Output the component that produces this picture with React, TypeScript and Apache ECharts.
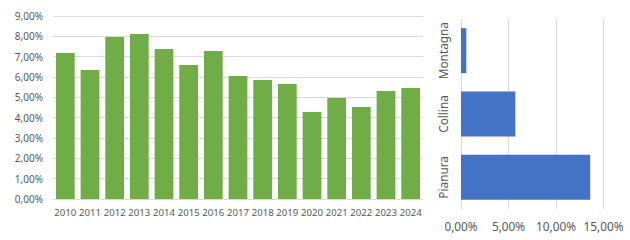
import React, { useEffect, useRef } from "react";
import * as echarts from "echarts";

const years = ["2010", "2011", "2012", "2013", "2014", "2015", "2016", "2017", "2018", "2019", "2020", "2021", "2022", "2023", "2024"];
const yearValues = [0.0718, 0.0635, 0.0797, 0.0812, 0.0738, 0.0659, 0.0728, 0.0605, 0.0585, 0.0566, 0.0428, 0.0497, 0.0453, 0.0531, 0.0546];
const zones = ["Pianura", "Collina", "Montagna"];
const zoneValues = [0.136, 0.0572, 0.0056];

const fmt = (v: number) => (v * 100).toFixed(2).replace(".", ",") + "%";
const textColor = "#595959";
const gridColor = "#d9d9d9";
const font = "Noto Sans";

export default function App() {
  const ref = useRef<HTMLDivElement>(null);
  useEffect(() => {
    if (!ref.current) return;
    const chart = echarts.init(ref.current, undefined, { renderer: "svg" });
    chart.setOption({
      animation: false,
      backgroundColor: "#ffffff",
      grid: [
        { left: 53, top: 16, width: 370, height: 183, containLabel: false },
        { left: 461, top: 19, width: 142.5, height: 190, containLabel: false },
      ],
      xAxis: [
        {
          gridIndex: 0,
          type: "category",
          data: years,
          axisLine: { show: true, lineStyle: { color: gridColor } },
          axisTick: { show: false },
          axisLabel: { interval: 0, color: textColor, fontSize: 9.6, fontFamily: font, margin: 8 },
        },
        {
          gridIndex: 1,
          type: "value",
          min: 0,
          max: 0.15,
          interval: 0.05,
          axisLine: { show: false },
          axisTick: { show: false },
          splitLine: { show: true, lineStyle: { color: gridColor } },
          axisLabel: { color: textColor, fontSize: 11.8, fontFamily: font, margin: 11, formatter: fmt },
        },
      ],
      yAxis: [
        {
          gridIndex: 0,
          type: "value",
          min: 0,
          max: 0.09,
          interval: 0.01,
          axisLine: { show: false },
          axisTick: { show: false },
          splitLine: { show: true, lineStyle: { color: gridColor } },
          axisLabel: { color: textColor, fontSize: 10, fontFamily: font, margin: 10, formatter: fmt },
        },
        {
          gridIndex: 1,
          type: "category",
          data: zones,
          axisLine: { show: false },
          axisTick: { show: false },
          axisLabel: { interval: 0, rotate: 90, color: textColor, fontSize: 11.8, fontFamily: font, margin: 12 },
        },
      ],
      series: [
        {
          type: "bar",
          xAxisIndex: 0,
          yAxisIndex: 0,
          data: yearValues,
          barCategoryGap: "24%",
          itemStyle: { color: "#70AD47" },
        },
        {
          type: "bar",
          xAxisIndex: 1,
          yAxisIndex: 1,
          data: zoneValues,
          barCategoryGap: "29%",
          itemStyle: { color: "#4472C4" },
        },
      ],
    });
    return () => chart.dispose();
  }, []);
  return <div ref={ref} style={{ position: "fixed", left: 0, top: 0, width: 630, height: 240 }} />;
}
